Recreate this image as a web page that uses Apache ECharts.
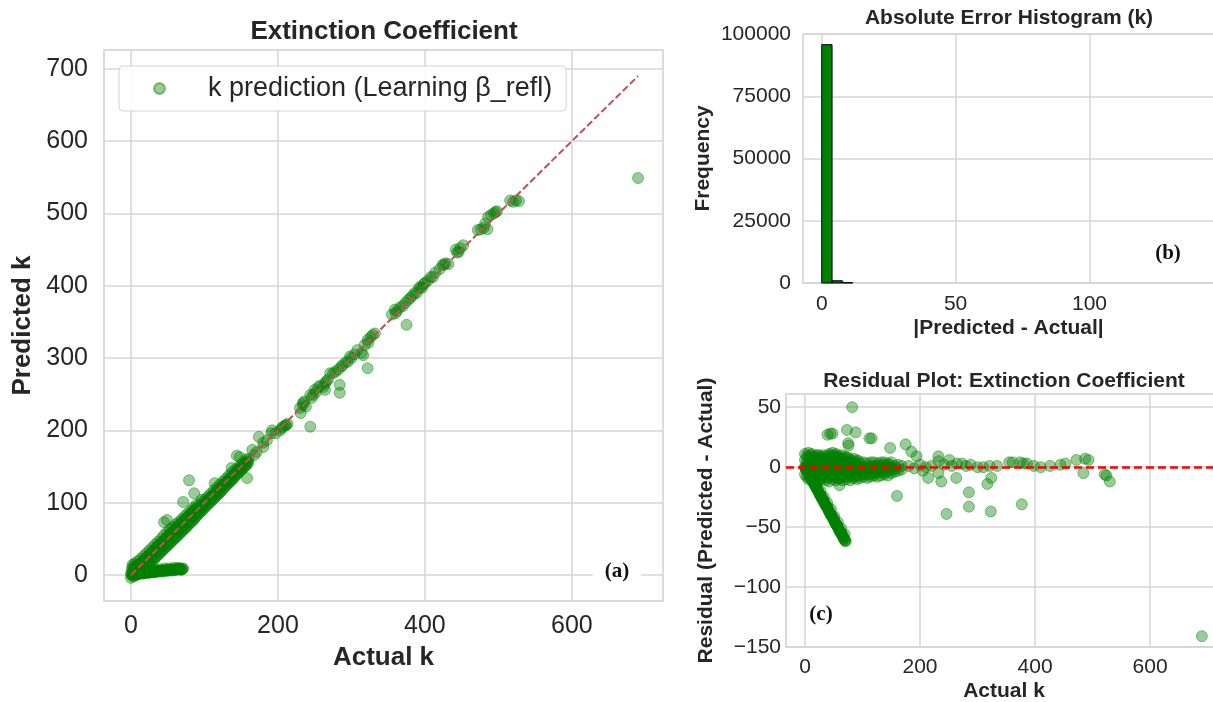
<!DOCTYPE html>
<html>
<head>
<meta charset="utf-8">
<title>Extinction Coefficient</title>
<script src="https://cdn.jsdelivr.net/npm/echarts@6.0.0/dist/echarts.min.js"></script>
<style>
  html, body { margin: 0; padding: 0; background: #fff; }
  #chart { width: 1213px; height: 702px; }
</style>
</head>
<body>
<div id="chart"></div>
<script>
// ---- data ----
// (a) predicted vs actual k : [actual, predicted]
const kBand = [
  [0,-4],[0,2],[1,8],[2,14],[4,-2],[4,4],[5,10],[5,16],[8,0],[8,7],[9,13],[9,19],
  [12,4],[12,10],[13,16],[13,22],[16,7],[16,14],[17,20],[17,26],[20,11],[20,18],[21,24],[21,30],
  [24,15],[24,21],[25,28],[25,34],[28,19],[28,26],[29,32],[29,38],[32,22],[32,30],[33,36],[33,42],
  [36,27],[36,34],[37,40],[37,46],[40,31],[40,38],[41,44],[41,50],[44,35],[44,42],[45,48],[45,55],
  [48,39],[48,46],[49,52],[49,59],[52,43],[52,50],[53,57],[53,63],[56,47],[56,54],[57,61],[57,66],
  [60,51],[60,58],[61,65],[61,70],[64,55],[64,62],[65,69],[65,73],[68,59],[68,66],[69,72],[69,77],
  [72,63],[72,70],[73,76],[73,81],[76,67],[76,74],[77,80],[77,85],[80,72],[80,78],[81,84],[81,89],
  [84,76],[84,82],[85,88],[85,93],[88,80],[88,86],[89,92],[89,97],
  [92,85],[92,91],[93,97],[96,89],[96,95],[97,101],[100,93],[100,99],[101,105],
  [104,97],[104,103],[105,109],[108,101],[108,107],[109,113],[112,105],[112,111],[113,117],
  [116,109],[116,115],[117,121],[120,113],[120,119],[121,125],[124,117],[124,123],[125,129],
  [128,122],[128,127],[129,133],[132,126],[132,131],[133,137],[136,130],[136,135],[137,141],
  [140,134],[140,139],[141,145],[144,139],[144,143],[145,148],[148,143],[148,147],[149,152],
  [152,147],[152,151],[153,156],[156,151],[156,155],[157,160],[160,156],[160,160]
];
const kBandInner = [
  [2,-1],[2,5],[3,11],[6,1],[6,7],[7,13],[10,3],[10,9],[11,15],[14,6],[14,12],[15,18],
  [18,9],[18,16],[19,22],[22,13],[22,19],[23,26],[26,17],[26,23],[27,30],[30,21],[30,27],[31,34],
  [34,25],[34,31],[35,38],[38,29],[38,35],[39,42],[42,33],[42,39],[43,46],[46,37],[46,43],[47,50],
  [50,41],[50,47],[51,54],[54,45],[54,51],[55,58],[58,49],[58,55],[59,62],[62,53],[62,59],[63,66],
  [66,57],[66,63],[67,70],[70,61],[70,67],[71,74],[74,65],[74,71],[75,78],[78,69],[78,75],[79,82],
  [82,73],[82,79],[83,86],[86,77],[86,83],[87,90],[90,82],[90,88],[94,86],[94,92],[98,90],[98,96],
  [102,95],[102,101],[106,99],[106,105],[110,103],[110,109],[114,107],[114,113],[118,111],[118,117],
  [122,115],[122,121],[126,120],[126,125],[130,124],[130,129],[134,128],[134,133],[138,132],[138,137],
  [142,137],[142,141],[146,141],[146,145],[150,145],[150,149],[154,149],[154,153],[158,153],[158,157]
];
const kTail = [
  [3,1],[6,1],[9,2],[12,2],[15,2],[18,3],[21,3],[24,3],[27,4],[30,4],[33,4],[36,5],
  [39,5],[42,5],[45,6],[48,6],[51,6],[54,7],[57,7],[60,7],[63,8],[66,8],[69,8],[71,9],
  [4,4],[10,5],[16,5],[22,6],[28,7],[34,7],[40,8],[46,9],[52,9],[58,10],[64,10],
  [1,0],[2,2],[5,2],[7,3],[8,1],[11,3],[13,2],[14,4],[17,2],[19,4],[20,3],[23,4],
  [25,3],[26,5],[29,4],[31,5],[32,4],[35,5],[37,5],[38,6],[41,6],[43,6],[44,5],[47,7],
  [49,6],[50,7],[53,7],[55,7],[56,6],[59,8],[61,7],[62,8],[65,8],[67,9],[68,7],[70,8]
];
const kUpper = [
  [165,173],[174,191],[180,177],[180,183],[191,196],[192,200],[203,200],[205,203],[210,207],[211,207],
  [230,231],[231,224],[234,235],[234,238],[244,249],[246,245],[248,249],[250,256],[255,260],[264,265],
  [264,256],[268,270],[271,279],[275,279],[286,288],[288,290],[295,295],[300,300],[314,307],[316,304],
  [318,318],[322,325],[323,321],[329,332],[355,360],[359,367],[360,362],[373,376],[377,380],[380,383],
  [386,390],[389,390],[392,397],[396,397],[400,404],[408,412],[411,412],[424,429],[426,429],[442,450],
  [446,447],[452,456],[472,477],[480,480],[486,495],[496,502],[498,503],[520,516],[524,518],[528,517],
  [168,166],[171,170],[185,186],[197,196],[207,205],[213,209],[236,240],[238,233],[252,253],[258,262],
  [262,260],[266,268],[278,281],[282,284],[292,294],[298,302],[304,305],[308,311],[326,329],[332,334],
  [362,365],[366,370],[370,372],[383,386],[394,398],[398,402],[404,407],[414,418],[420,423],[428,431],
  [432,430],[444,446],[448,452],[476,478],[482,486],[490,498],[494,500],[516,518]
];
const kOutliers = [
  [690,549],[375,346],[322,286],[284,263],[284,252],[244,205],[158,134],[144,165],[137,148],
  [114,127],[79,131],[86,113],[71,101],[96,104],[49,76],[45,73],[148,163],[485,478]
];
const idealLine = [[0, 0], [690, 690]];

// (b) histogram of |predicted - actual|
const histEdges = [0, 3.85, 7.7, 11.55];
const histCounts = [95700, 900, 150];

// (c) residuals : [actual, predicted - actual]
const resBlock = [
  [0,-6],[0,0],[0,6],[0,11],[6,-10],[6,-4],[6,2],[6,8],[6,12],[12,-11],[12,-5],[12,1],[12,7],[12,11],
  [18,-10],[18,-4],[18,2],[18,8],[24,-11],[24,-5],[24,1],[24,7],[24,10],[30,-10],[30,-4],[30,2],[30,8],
  [36,-11],[36,-5],[36,1],[36,7],[42,-12],[42,-6],[42,0],[42,6],[42,11],[48,-10],[48,-4],[48,2],[48,8],[48,12],
  [54,-11],[54,-5],[54,1],[54,7],[54,11],[60,-10],[60,-4],[60,2],[60,8],[66,-11],[66,-5],[66,1],[66,7],
  [72,-10],[72,-4],[72,2],[72,8],[78,-11],[78,-5],[78,1],[78,6],[84,-9],[84,-3],[84,3],[84,7],
  [90,-10],[90,-4],[90,2],[90,6],[96,-9],[96,-3],[96,3],[102,-8],[102,-2],[102,4],[108,-9],[108,-3],[108,3],
  [114,-8],[114,-2],[114,4],[120,-7],[120,-1],[120,4],[126,-8],[126,-2],[126,3],[132,-7],[132,-1],[132,4],
  [138,-6],[138,0],[138,4],[144,-7],[144,-1],[144,3],[150,-5],[150,0],[150,4],[156,-4],[156,1],
  [162,-3],[162,2],[168,-2],[168,1]
];
const resBlockInner = [
  [3,-8],[3,-2],[3,4],[3,9],[9,-8],[9,-2],[9,4],[9,10],[15,-9],[15,-3],[15,3],[15,9],
  [21,-8],[21,-2],[21,4],[21,10],[27,-9],[27,-3],[27,3],[27,9],[33,-8],[33,-2],[33,4],[33,10],
  [39,-9],[39,-3],[39,3],[39,9],[45,-8],[45,-2],[45,4],[45,10],[51,-8],[51,-2],[51,4],[51,10],
  [57,-9],[57,-3],[57,3],[57,9],[63,-8],[63,-2],[63,4],[63,10],[69,-8],[69,-2],[69,4],[69,9],
  [75,-8],[75,-2],[75,4],[75,8],[81,-7],[81,-1],[81,5],[87,-8],[87,-2],[87,4],[93,-7],[93,-1],[93,5],
  [99,-6],[99,0],[105,-6],[105,0],[111,-6],[111,0],[117,-5],[117,1],[123,-5],[123,1],[129,-4],[129,1],
  [135,-4],[135,2],[141,-4],[141,1],[147,-3],[147,2],[153,-2],[159,-1]
];
const resTail = [
  [2,-2],[5,-4],[8,-7],[11,-10],[14,-12],[17,-15],[20,-18],[23,-20],[26,-23],[29,-26],[32,-28],[35,-31],
  [38,-33],[41,-36],[44,-39],[47,-41],[50,-44],[53,-47],[56,-49],[59,-52],[62,-55],[65,-57],[68,-60],[71,-62],
  [3,1],[9,-4],[15,-9],[21,-14],[27,-20],[33,-25],[39,-30],[45,-35],[51,-41],[57,-46],[63,-51],[69,-56],
  [0,0],[1,-1],[3,-3],[4,-3],[6,-5],[7,-6],[9,-8],[10,-8],[12,-10],[13,-11],[15,-13],[16,-14],
  [18,-16],[19,-16],[21,-18],[22,-19],[24,-21],[25,-22],[27,-24],[28,-24],[30,-26],[31,-27],[33,-29],[34,-30],
  [36,-32],[37,-32],[39,-34],[40,-35],[42,-37],[43,-38],[45,-40],[46,-40],[48,-42],[49,-43],[51,-45],[52,-46],
  [54,-48],[55,-48],[57,-50],[58,-51],[60,-53],[61,-54],[63,-55],[64,-56],[66,-58],[67,-59],[69,-61],[70,-61]
];
const resSpread = [
  [82,50],[39,27],[44,28],[48,28],[73,31],[88,29],[76,18],[75,20],[116,24],[112,24],[148,16],[175,19],
  [185,13],[194,9],[180,1],[190,-1],[200,2],[205,-3],[210,0],[220,1],[232,9],[232,5],[242,2],[251,6],
  [255,1],[264,3],[273,3],[280,1],[288,2],[300,0],[310,0],[321,1],[334,1],[355,4],[361,4],[374,4],
  [380,3],[386,3],[398,1],[410,0],[426,1],[444,2],[453,3],[472,6],[487,7],[493,6],[484,-5],[521,-6],
  [524,-7],[530,-12],[160,-24],[60,-15],[263,-9],[237,-12],[214,-9],[232,-5],[285,-21],[285,-33],
  [246,-39],[323,-37],[377,-31],[317,-14],[324,-9],[690,-141]
];

// tick values
const kTicks = [0, 200, 400, 600];
const kPredTicks = [0, 100, 200, 300, 400, 500, 600, 700];
const errTicks = [0, 50, 100];
const freqTicks = [0, 25000, 50000, 75000, 100000];
const resTicks = [-150, -100, -50, 0, 50];

// ---- styles ----
const textColor = '#262626';
const gridColor = '#d6d6d6';
const pointStyle = { color: 'rgba(0,128,0,0.5)', borderColor: 'rgba(0,128,0,0.55)', borderWidth: 1 };
const fmtTick = (v) => String(v).replace('-', '\u2212');

function valueAxis(gridIndex, min, max, ticks, labelSize, margin, name, nameSize, nameGap) {
  return {
    type: 'value',
    gridIndex,
    min,
    max,
    axisLine: { show: false },
    axisTick: { show: false, customValues: ticks },
    splitLine: { show: true, lineStyle: { color: gridColor, width: 1.5 } },
    axisLabel: { customValues: ticks, fontSize: labelSize, color: textColor, margin, formatter: fmtTick },
    name,
    nameLocation: 'middle',
    nameGap,
    nameMoveOverlap: false,
    nameTextStyle: { fontSize: nameSize, fontWeight: 'bold', color: textColor }
  };
}

const gridBase = { show: true, borderColor: '#cfcfcf', borderWidth: 1.5, backgroundColor: '#fff', containLabel: false, outerBoundsMode: 'none' };

const chart = echarts.init(document.getElementById('chart'));

chart.setOption({
  animation: false,
  backgroundColor: '#fff',
  textStyle: { fontFamily: 'Liberation Sans, Arial, sans-serif' },
  grid: [
    Object.assign({ left: 104, top: 50, width: 559, height: 551 }, gridBase),
    Object.assign({ left: 803, top: 34, width: 411, height: 249 }, gridBase),
    Object.assign({ left: 786, top: 394, width: 436, height: 253 }, gridBase)
  ],
  xAxis: [
    valueAxis(0, -36.7, 724, kTicks, 25, 13, 'Actual k', 26, 44),
    valueAxis(1, -7, 146.5, errTicks, 21, 11, '|Predicted - Actual|', 21, 35),
    valueAxis(2, -33, 725, kTicks, 21, 10, 'Actual k', 21, 34)
  ],
  yAxis: [
    valueAxis(0, -36, 726, kPredTicks, 25, 16, 'Predicted k', 26, 68),
    valueAxis(1, 0, 100000, freqTicks, 21, 12, 'Frequency', 21, 89),
    valueAxis(2, -150, 61, resTicks, 21, 5, 'Residual (Predicted - Actual)', 21, 69)
  ],
  legend: {
    data: ['k prediction (Learning β_refl)'],
    left: 119,
    top: 66,
    padding: [9, 14, 9, 34],
    itemWidth: 11,
    itemHeight: 11,
    icon: 'circle',
    selectedMode: false,
    backgroundColor: 'rgba(255,255,255,0.85)',
    borderColor: '#d3d3d3',
    borderWidth: 1,
    borderRadius: 4,
    textStyle: { fontSize: 27, color: textColor, padding: [0, 0, 0, 38] }
  },
  graphic: [
    { type: 'text', x: 384, y: 32, z: 100, style: { text: 'Extinction Coefficient', font: 'bold 26px "Liberation Sans"', fill: textColor, align: 'center', verticalAlign: 'middle' } },
    { type: 'text', x: 1009, y: 18, z: 100, style: { text: 'Absolute Error Histogram (k)', font: 'bold 21px "Liberation Sans"', fill: textColor, align: 'center', verticalAlign: 'middle' } },
    { type: 'text', x: 1004, y: 381, z: 100, style: { text: 'Residual Plot: Extinction Coefficient', font: 'bold 21px "Liberation Sans"', fill: textColor, align: 'center', verticalAlign: 'middle' } },
    { type: 'text', x: 617, y: 572, z: 100, style: { text: '(a)', font: 'bold 21px "Liberation Serif"', fill: '#111', backgroundColor: '#fff', padding: [4, 12], align: 'center', verticalAlign: 'middle' } },
    { type: 'text', x: 1168, y: 254, z: 100, style: { text: '(b)', font: 'bold 21px "Liberation Serif"', fill: '#111', align: 'center', verticalAlign: 'middle' } },
    { type: 'text', x: 821, y: 615, z: 100, style: { text: '(c)', font: 'bold 21px "Liberation Serif"', fill: '#111', align: 'center', verticalAlign: 'middle' } }
  ],
  series: [
    {
      name: 'k prediction (Learning β_refl)',
      type: 'scatter',
      xAxisIndex: 0,
      yAxisIndex: 0,
      symbol: 'circle',
      symbolSize: 11,
      itemStyle: pointStyle,
      emphasis: { disabled: true },
      data: kBand.concat(kBandInner, kTail, kUpper, kOutliers),
      z: 2
    },
    {
      type: 'line',
      xAxisIndex: 0,
      yAxisIndex: 0,
      data: idealLine,
      symbol: 'none',
      silent: true,
      lineStyle: { color: '#c44e52', width: 2, type: [7, 3] },
      z: 3
    },
    {
      type: 'custom',
      xAxisIndex: 1,
      yAxisIndex: 1,
      data: histCounts.map((c, i) => [histEdges[i], histEdges[i + 1], c]),
      encode: { x: [0, 1], y: 2 },
      renderItem: (params, api) => {
        const p0 = api.coord([api.value(0), api.value(2)]);
        const p1 = api.coord([api.value(1), 0]);
        return {
          type: 'rect',
          shape: { x: p0[0], y: p0[1], width: p1[0] - p0[0], height: p1[1] - p0[1] },
          style: { fill: '#008000', stroke: '#000', lineWidth: 1 }
        };
      },
      z: 2
    },
    {
      type: 'scatter',
      xAxisIndex: 2,
      yAxisIndex: 2,
      symbol: 'circle',
      symbolSize: 11,
      itemStyle: pointStyle,
      emphasis: { disabled: true },
      data: resBlock.concat(resBlockInner, resTail, resSpread),
      z: 2,
      markLine: {
        silent: true,
        symbol: 'none',
        label: { show: false },
        lineStyle: { color: '#ff0000', width: 2.5, type: [8, 4] },
        data: [{ yAxis: 0 }]
      }
    }
  ]
});

window.addEventListener('resize', () => {
  chart.resize();
});
</script>
</body>
</html>
